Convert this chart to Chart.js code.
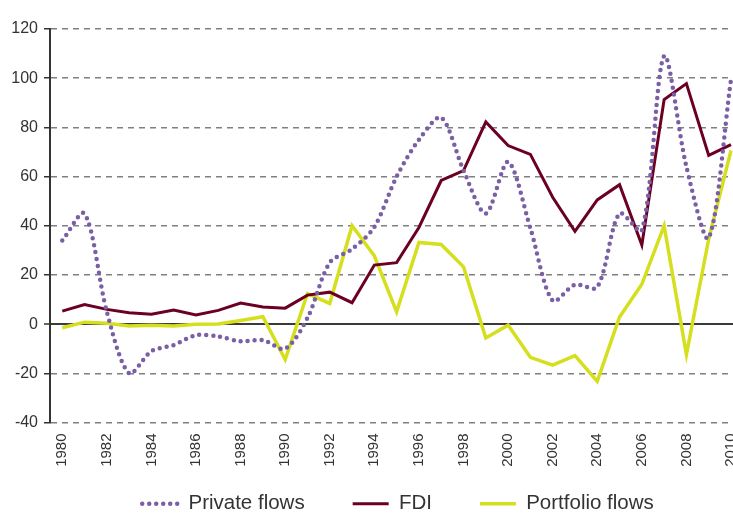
<!DOCTYPE html>
<html>
<head>
<meta charset="utf-8">
<title>Private flows, FDI and portfolio flows</title>
<script src="https://cdn.jsdelivr.net/npm/chart.js@4"></script>
<style>
    body { margin: 0; overflow: hidden; background: #fff; }
    .chart-wrap { position: absolute; left: 0; top: 0; width: 760px; height: 524px; }
</style>
</head>
<body>
<div class="chart-wrap"><canvas id="flowsChart"></canvas></div>
<script>
// Data
const years = [1980, 1981, 1982, 1983, 1984, 1985, 1986, 1987, 1988, 1989,
    1990, 1991, 1992, 1993, 1994, 1995, 1996, 1997, 1998, 1999,
    2000, 2001, 2002, 2003, 2004, 2005, 2006, 2007, 2008, 2009, 2010];
const privateFlows = [34, 45, 5, -20, -11, -8.5, -4.5, -5, -7, -6.5,
    -10, 2.5, 25, 30.5, 39.5, 60, 75, 84, 62.5, 45,
    66, 39, 9.5, 16, 15, 45, 38, 109, 64, 35, 99.5];
const fdi = [5.3, 8, 6, 4.6, 4, 5.7, 3.7, 5.6, 8.6, 7,
    6.5, 11.8, 13, 8.7, 24, 25, 39.3, 58.4, 62.4, 82.2,
    72.6, 69, 51.6, 37.7, 50.5, 56.7, 32.2, 91.3, 97.8, 68.6, 73];
const portfolioFlows = [-1.5, 0.8, 0.4, -0.8, -0.5, -0.8, -0.1, 0.1, 1.5, 3,
    -14.4, 12.4, 8.4, 40, 27.8, 5, 33.2, 32.4, 23.3, -5.6,
    -0.4, -13.5, -16.7, -12.8, -23.3, 2.9, 16.2, 40, -12.4, 34.6, 70.6];
const yearTicks = years.filter(y => y % 2 === 0);
const yTicks = [-40, -20, 0, 20, 40, 60, 80, 100, 120];

function points(values) {
    return years.map((yr, i) => ({ x: yr, y: values[i] }));
}

const font = '"Liberation Sans", Arial, sans-serif';
const defaultLabels = Chart.defaults.plugins.legend.labels.generateLabels;

// axis boxes are kept tight for the layout, so widen their clip area afterwards
const labelRoom = {
    id: 'labelRoom',
    afterLayout(chart) {
        chart.scales.x.bottom = chart.height;
        chart.scales.y.left = 0;
    }
};

const ctx = document.getElementById('flowsChart').getContext('2d');
const flowsChart = new Chart(ctx, {
    type: 'line',
    data: {
        datasets: [{
            label: 'Private flows',
            data: points(privateFlows),
            borderColor: '#7a5fa6',
            backgroundColor: '#7a5fa6',
            borderWidth: 4.5,
            borderDash: [0, 7],
            borderCapStyle: 'round',
            tension: 0.3,
            pointRadius: 0,
            pointStyle: 'line'
        }, {
            label: 'FDI',
            data: points(fdi),
            borderColor: '#6c0023',
            backgroundColor: '#6c0023',
            borderWidth: 3,
            tension: 0,
            pointRadius: 0,
            pointStyle: 'line'
        }, {
            label: 'Portfolio flows',
            data: points(portfolioFlows),
            borderColor: '#d6df1d',
            backgroundColor: '#d6df1d',
            borderWidth: 3.5,
            tension: 0,
            pointRadius: 0,
            pointStyle: 'line'
        }]
    },
    options: {
        responsive: true,
        maintainAspectRatio: false,
        animation: false,
        devicePixelRatio: 1,
        layout: {
            padding: { top: 29, left: 36, right: 0, bottom: 0 }
        },
        plugins: {
            legend: {
                position: 'bottom',
                labels: {
                    usePointStyle: true,
                    pointStyleWidth: 36,
                    padding: 48,
                    color: '#333',
                    font: { family: font, size: 20.5 },
                    generateLabels: chart => defaultLabels(chart).map(item => {
                        const ds = chart.data.datasets[item.datasetIndex];
                        item.lineDash = ds.borderDash || [];
                        item.lineCap = ds.borderCapStyle || 'butt';
                        item.lineWidth = ds.borderWidth;
                        return item;
                    })
                }
            },
            tooltip: { enabled: false }
        },
        scales: {
            x: {
                type: 'linear',
                min: 1979.45,
                max: 2011.3,
                afterBuildTicks: axis => {
                    axis.ticks = yearTicks.map(v => ({ value: v }));
                },
                afterFit: axis => { axis.height = 23; },
                grid: { display: false, drawTicks: false },
                border: { display: false },
                ticks: {
                    autoSkip: false,
                    minRotation: 90,
                    maxRotation: 90,
                    padding: 11,
                    color: '#333',
                    font: { family: font, size: 15 },
                    callback: v => String(v)
                }
            },
            y: {
                min: -40,
                max: 120,
                afterBuildTicks: axis => {
                    axis.ticks = yTicks.map(v => ({ value: v }));
                },
                afterFit: axis => { axis.width = 14; },
                grid: {
                    color: c => (c.tick && c.tick.value === 0) ? '#3a3a3a' : '#808080',
                    lineWidth: c => (c.tick && c.tick.value === 0) ? 2 : 1.5,
                    tickColor: '#333',
                    tickLength: 6,
                    tickWidth: 1.5
                },
                border: {
                    color: '#333',
                    width: 2,
                    dash: c => (c.tick && c.tick.value === 0) ? [] : [6, 5]
                },
                ticks: {
                    padding: 6,
                    color: '#333',
                    font: { family: font, size: 16 }
                }
            }
        }
    },
    plugins: [labelRoom]
});
</script>
</body>
</html>
